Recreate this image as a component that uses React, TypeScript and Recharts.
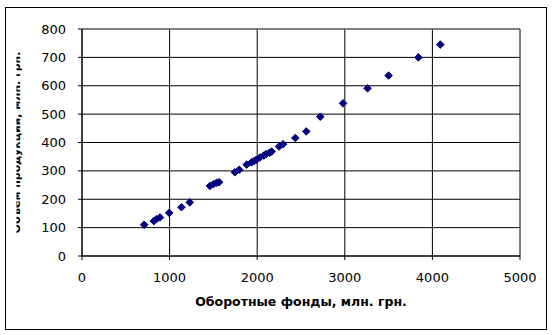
import { ScatterChart, Scatter, XAxis, YAxis, CartesianGrid, ReferenceLine } from 'recharts';

// Оборотные фонды (млн. грн.) и объем продукции (млн. грн.)
const funds = [
  710, 820, 850, 890, 995, 1135, 1230, 1460, 1500, 1535, 1565, 1745, 1795,
  1880, 1935, 1965, 1990, 2030, 2075, 2100, 2140, 2165, 2250, 2295, 2435,
  2560, 2720, 2980, 3260, 3500, 3840, 4090,
];
const output = [
  110, 123, 130, 136, 152, 172, 189, 247, 253, 258, 260, 295, 304,
  322, 330, 335, 339, 347, 354, 359, 364, 368, 386, 394, 416,
  439, 491, 538, 591, 636, 700, 745,
];

const xTicks = [0, 1000, 2000, 3000, 4000, 5000];
const yTicks = [0, 100, 200, 300, 400, 500, 600, 700, 800];

const xTitle = 'Оборотные фонды, млн. грн.';
const yTitle = 'Объем продукции, млн. грн.';

const data = funds.map((x, i) => ({ x, y: output[i] }));

const FONT = '"DejaVu Sans", Verdana, sans-serif';

function Marker(props: any) {
  const { cx, cy } = props;
  const r = 3.8;
  return (
    <polygon
      points={`${cx},${cy - r} ${cx + r},${cy} ${cx},${cy + r} ${cx - r},${cy}`}
      fill="#000080"
      stroke="#000080"
      strokeWidth={1}
    />
  );
}

function XTitle(props: any) {
  const { viewBox } = props;
  const cx = viewBox.x + viewBox.width / 2;
  return (
    <text x={cx} y={306} textAnchor="middle" fontFamily={FONT} fontSize={12.5} fontWeight="bold" fill="#000">
      {xTitle}
    </text>
  );
}

function YTitle(props: any) {
  const { viewBox } = props;
  const cy = viewBox.y + viewBox.height / 2;
  const bx = 19.5;
  return (
    <g>
      <defs>
        <clipPath id="ytitle-clip">
          <rect x={16.5} y={0} width={6.5} height={335} />
        </clipPath>
      </defs>
      <g clipPath="url(#ytitle-clip)">
        <text
          x={bx}
          y={cy}
          transform={`rotate(-90, ${bx}, ${cy})`}
          textAnchor="middle"
          fontFamily={FONT}
          fontSize={11}
          fontWeight="bold"
          fill="#000"
        >
          {yTitle}
        </text>
      </g>
    </g>
  );
}

export default function App() {
  return (
    <div style={{ position: 'relative', width: 555, height: 335, background: '#fff' }}>
      <style>{`body{margin:0}`}</style>
      <div
        style={{
          position: 'absolute',
          left: 5,
          top: 7,
          width: 540,
          height: 321,
          border: '1px solid #000',
          pointerEvents: 'none',
        }}
      />
      <ScatterChart width={555} height={335} margin={{ top: 29, right: 35, bottom: 0, left: 22 }}>
        <CartesianGrid stroke="#000" strokeWidth={1} fill="#fff" />
        <XAxis
          type="number"
          dataKey="x"
          domain={[0, 5000]}
          ticks={xTicks}
          interval={0}
          axisLine={{ stroke: '#000' }}
          tickLine={{ stroke: '#000' }}
          tickSize={4}
          tickMargin={13}
          tick={{ fill: '#000', fontSize: 13, fontFamily: FONT }}
          height={79}
          label={<XTitle />}
        />
        <YAxis
          type="number"
          dataKey="y"
          domain={[0, 800]}
          ticks={yTicks}
          interval={0}
          axisLine={{ stroke: '#000' }}
          tickLine={{ stroke: '#000' }}
          tickSize={4}
          tickMargin={12}
          tick={{ fill: '#000', fontSize: 13, fontFamily: FONT }}
          width={60}
          label={<YTitle />}
        />
        <ReferenceLine y={800} stroke="#808080" strokeWidth={1} />
        <Scatter data={data} shape={<Marker />} isAnimationActive={false} />
      </ScatterChart>
    </div>
  );
}
